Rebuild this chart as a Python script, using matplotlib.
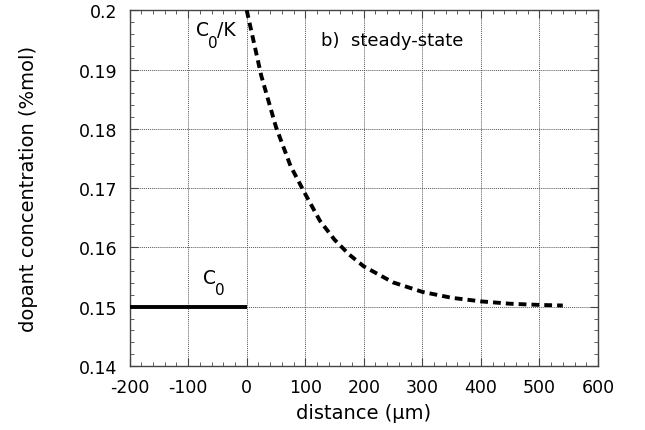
import matplotlib
matplotlib.use("Agg")
import matplotlib.pyplot as plt
from matplotlib.ticker import MultipleLocator

plt.rcParams['font.family'] = ['DejaVu Sans']
plt.rcParams['axes.unicode_minus'] = False

# initial concentration line (solid)
x_c0 = [-200, 0]
y_c0 = [0.150, 0.150]

# steady-state profile (dashed)
x_ss = [0, 25, 50, 75, 100, 125, 150, 175, 200, 250, 300, 350, 400, 450, 500, 540]
y_ss = [0.200, 0.1889, 0.1803, 0.1737, 0.1690, 0.1645, 0.1613, 0.1588, 0.1568,
        0.1541, 0.1525, 0.1515, 0.1509, 0.1505, 0.1503, 0.1502]

xticks = [-200, -100, 0, 100, 200, 300, 400, 500, 600]
yticks = [0.14, 0.15, 0.16, 0.17, 0.18, 0.19, 0.20]
ytick_labels = ['0.14', '0.15', '0.16', '0.17', '0.18', '0.19', '0.2']

fig = plt.figure(figsize=(6.45, 4.31), dpi=100)
ax = fig.add_axes([0.201, 0.1485, 0.726, 0.8255])

ax.plot(x_c0, y_c0, color='black', lw=2.8, solid_capstyle='butt', zorder=3)
ax.plot(x_ss, y_ss, color='black', lw=2.8, dashes=(2.0, 1.3), zorder=3)

ax.set_xlim(-200, 600)
ax.set_ylim(0.14, 0.20)
ax.set_xticks(xticks)
ax.set_yticks(yticks)
ax.set_yticklabels(ytick_labels)
ax.xaxis.set_minor_locator(MultipleLocator(20))
ax.yaxis.set_minor_locator(MultipleLocator(0.002))
ax.tick_params(which='both', direction='in', top=True, right=True, labelsize=12.5, color='#444444')
ax.tick_params(which='major', length=6, width=0.8)
ax.tick_params(which='minor', length=3, width=0.6)
ax.tick_params(axis='x', pad=9)
ax.tick_params(axis='y', pad=9)
ax.grid(True, which='major', linestyle=(0, (1, 1)), color='#555555', lw=0.7)
for s in ax.spines.values():
    s.set_color('#444444')
    s.set_linewidth(1.0)

ax.set_xlabel('distance (μm)', fontsize=14, labelpad=5)
ax.set_ylabel('dopant concentration (%mol)', fontsize=14, labelpad=29)


def label_with_sub(x, y, main, sub, tail=''):
    ax.annotate(main, (x, y), fontsize=13.5, ha='left', va='center')
    ax.annotate(sub, (x, y), xytext=(8.5, -9), textcoords='offset points',
                fontsize=11, ha='left', va='center')
    if tail:
        ax.annotate(tail, (x, y), xytext=(15, 0), textcoords='offset points',
                    fontsize=13.5, ha='left', va='center')


label_with_sub(-87, 0.1967, 'C', '0', '/K')
label_with_sub(-74, 0.1550, 'C', '0')
ax.text(127, 0.1950, 'b)  steady-state', fontsize=13, ha='left', va='center')

fig.savefig('out.png', dpi=100)
